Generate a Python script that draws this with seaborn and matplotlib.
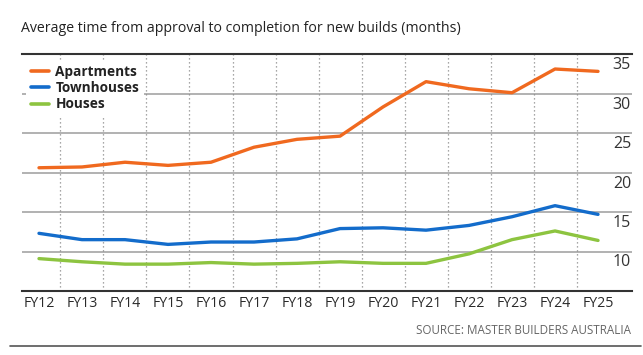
import matplotlib
matplotlib.use("Agg")
import matplotlib.pyplot as plt
import matplotlib.transforms as mtransforms
from matplotlib.lines import Line2D
import seaborn as sns
import pandas as pd
import numpy as np

# ---- data ----
years = ["FY12", "FY13", "FY14", "FY15", "FY16", "FY17", "FY18",
         "FY19", "FY20", "FY21", "FY22", "FY23", "FY24", "FY25"]
apartments = [20.6, 20.7, 21.3, 20.9, 21.3, 23.2, 24.2, 24.6, 28.3, 31.5, 30.6, 30.1, 33.1, 32.8]
townhouses = [12.3, 11.5, 11.5, 10.9, 11.2, 11.2, 11.6, 12.9, 13.0, 12.7, 13.3, 14.4, 15.8, 14.7]
houses = [9.1, 8.7, 8.4, 8.4, 8.6, 8.4, 8.5, 8.7, 8.5, 8.5, 9.7, 11.5, 12.6, 11.4]
series_names = ["Apartments", "Townhouses", "Houses"]
y_ticks = [10, 15, 20, 25, 30, 35]

title = "Average time from approval to completion for new builds (months)"
source = "SOURCE: MASTER BUILDERS AUSTRALIA"

colors = {"Apartments": "#F0691F", "Townhouses": "#136CCB", "Houses": "#8DC440"}

df = pd.DataFrame({
    "year": years * 3,
    "idx": list(range(len(years))) * 3,
    "value": apartments + townhouses + houses,
    "series": [series_names[0]] * len(years) + [series_names[1]] * len(years) + [series_names[2]] * len(years),
})

sns.set_theme(style="white")
plt.rcParams["font.family"] = ["Liberation Sans", "DejaVu Sans"]

W, H = 643, 355
fig = plt.figure(figsize=(W / 100, H / 100), dpi=100)
ax_l, ax_r, ax_t, ax_b = 22, 632, 54, 291
ax = fig.add_axes([ax_l / W, 1 - ax_b / H, (ax_r - ax_l) / W, (ax_b - ax_t) / H])

sns.lineplot(data=df, x="idx", y="value", hue="series", palette=colors,
             linewidth=2.4, ax=ax, legend=False, zorder=3)

ax.set_xlim(-0.395, 13.79)
ax.set_ylim(5, 35)

# horizontal gridlines
for v in y_ticks[:-1]:
    ax.axhline(v, color="#ABABAB", lw=1.3, zorder=1)
# vertical dotted separators
for i in range(len(years) - 1):
    ax.axvline(i + 0.5, color="#8A8A8A", lw=0.9, ls=(0, (1, 2.2)), zorder=1)

for s in ["left", "right"]:
    ax.spines[s].set_visible(False)
for s in ["top", "bottom"]:
    ax.spines[s].set_color("#333333")
    ax.spines[s].set_linewidth(1.5)

ax.set_xticks(range(len(years)))
ax.set_xticklabels(years)
ax.tick_params(axis="x", length=0, pad=3.5, labelsize=11, labelcolor="#2a2a2a")
for t in ax.get_xticklabels():
    t.set_family(["Open Sans", "DejaVu Sans"])
    t.set_fontsize(10.2)
ax.set_yticks([])
ax.set_xlabel("")
ax.set_ylabel("")

# right-side y labels, hanging just below their gridlines
off = mtransforms.ScaledTranslation(-1 / 100, -3 / 100, fig.dpi_scale_trans)
trans = mtransforms.blended_transform_factory(ax.transAxes, ax.transData) + off
for v in y_ticks:
    ax.text(1.0, v, str(v), transform=trans, ha="right", va="top",
            fontsize=11.5, color="#333333", family=["Open Sans", "DejaVu Sans"], zorder=5)

# legend
handles = [Line2D([0], [0], color=colors[n], lw=2.6) for n in series_names]
leg = ax.legend(handles, series_names, loc="upper left", bbox_to_anchor=(0.0, 0.99),
                frameon=True, facecolor="white", edgecolor="none", framealpha=1,
                handlelength=1.3, handletextpad=0.5, labelspacing=0.15,
                borderpad=0.35, borderaxespad=0.3,
                prop={"family": ["Open Sans", "DejaVu Sans"], "weight": "bold", "size": 9.8})
leg.set_zorder(4)
for t in leg.get_texts():
    t.set_color("#222222")

fig.text(21 / W, 1 - 32 / H, title, ha="left", va="baseline", fontsize=10.2,
         color="#222222", family=["Open Sans", "DejaVu Sans"])
fig.text(631 / W, 1 - 331 / H, source, ha="right", va="center", fontsize=8.4,
         color="#666666", family=["Open Sans", "DejaVu Sans"])
fig.add_artist(Line2D([10 / W, 641 / W], [1 - 346 / H, 1 - 346 / H], color="#555555", lw=1.2))

fig.savefig("out.png", dpi=100)
